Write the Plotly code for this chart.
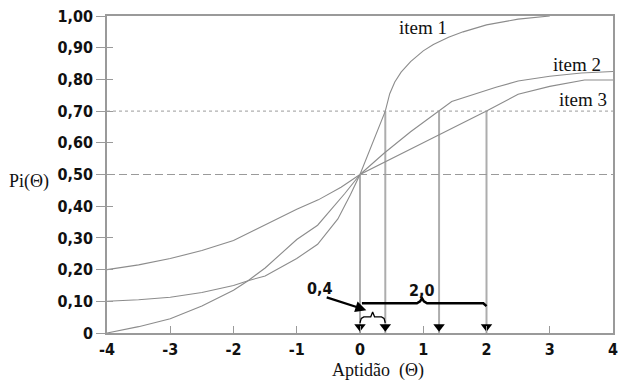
import plotly.graph_objects as go

# ---------------- data ----------------
theta_item1 = [-4, -3.5, -3, -2.5, -2, -1.77, -1.5, -1, -0.67, -0.24, 0, 0.2, 0.4, 0.47, 0.55, 0.65, 0.8, 1.0, 1.16, 1.4, 1.63, 2.0, 2.5, 3]
p_item1 = [0.0, 0.02, 0.045, 0.085, 0.135, 0.165, 0.205, 0.295, 0.34, 0.44, 0.5, 0.6, 0.7, 0.755, 0.792, 0.823, 0.856, 0.89, 0.91, 0.933, 0.95, 0.972, 0.99, 1.0]

theta_item2 = [-4, -3.5, -3, -2.5, -2, -1.5, -1, -0.66, -0.3, 0, 0.38, 0.8, 1.25, 1.45, 2.15, 2.5, 3, 3.5, 4]
p_item2 = [0.2, 0.215, 0.235, 0.26, 0.292, 0.34, 0.39, 0.42, 0.46, 0.5, 0.567, 0.635, 0.7, 0.73, 0.775, 0.795, 0.81, 0.82, 0.825]

theta_item3 = [-4, -3.5, -3, -2.5, -2, -1.77, -1.5, -1, -0.67, -0.35, -0.15, 0, 1, 2, 2.5, 3, 3.55, 4]
p_item3 = [0.1, 0.105, 0.113, 0.128, 0.15, 0.165, 0.18, 0.235, 0.28, 0.36, 0.437, 0.5, 0.6, 0.7, 0.753, 0.778, 0.798, 0.798]

item_labels = ["item 1", "item 2", "item 3"]
theta_at_070 = [0.4, 1.25, 2.0]   # ability where each item reaches P = 0.70
theta_at_050 = 0.0
p_ref_high = 0.70
p_ref_mid = 0.50

y_tickvals = [0, 0.1, 0.2, 0.3, 0.4, 0.5, 0.6, 0.7, 0.8, 0.9, 1.0]
y_ticktext = ["0", "0,10", "0,20", "0,30", "0,40", "0,50", "0,60", "0,70", "0,80", "0,90", "1,00"]
x_tickvals = [-4, -3, -2, -1, 0, 1, 2, 3, 4]
x_ticktext = ["-4", "-3", "-2", "-1", "0", "1", "2", "3", "4"]

# ---------------- styles ----------------
CURVE = "#8c8c8c"
AXIS = "#9a9a9a"
VLINE = "#adadad"
TICKFONT = dict(family="DejaVu Sans Condensed, DejaVu Sans, sans-serif", size=16, color="#111", weight="bold")
SERIF = "Liberation Serif, Times New Roman, serif"

fig = go.Figure()

# vertical drop lines
for t in theta_at_070:
    fig.add_trace(go.Scatter(x=[t, t], y=[p_ref_high, 0], mode="lines",
                             line=dict(color=VLINE, width=2), hoverinfo="skip", showlegend=False))
fig.add_trace(go.Scatter(x=[theta_at_050, theta_at_050], y=[p_ref_mid, 0], mode="lines",
                         line=dict(color=VLINE, width=2), hoverinfo="skip", showlegend=False))

# curves
for tx, py in [(theta_item1, p_item1), (theta_item2, p_item2), (theta_item3, p_item3)]:
    fig.add_trace(go.Scatter(x=tx, y=py, mode="lines", line=dict(color=CURVE, width=1.1),
                             hoverinfo="skip", showlegend=False))

# arrowheads on the axis
fig.add_trace(go.Scatter(x=[theta_at_050] + theta_at_070, y=[0.02] * 4, mode="markers",
                         marker=dict(symbol="triangle-down", size=10, color="black"),
                         hoverinfo="skip", showlegend=False, cliponaxis=False))

# big bracket (0 -> 2.0)
br_x = [0.03, 0.9, 0.95, 0.98, 1.01, 1.06, 1.95, 2.0]
br_y = [0.094, 0.094, 0.1, 0.11, 0.1, 0.094, 0.094, 0.085]
fig.add_trace(go.Scatter(x=br_x, y=br_y, mode="lines", line=dict(color="black", width=2.5),
                         hoverinfo="skip", showlegend=False))
# small brace (0 -> 0.4)
sb_x = [0.0, 0.02, 0.06, 0.17, 0.2, 0.23, 0.34, 0.38, 0.4]
sb_y = [0.032, 0.046, 0.051, 0.051, 0.066, 0.051, 0.051, 0.046, 0.032]
fig.add_trace(go.Scatter(x=sb_x, y=sb_y, mode="lines", line=dict(color="black", width=1.3),
                         hoverinfo="skip", showlegend=False))

# overlay axis for inside y ticks
fig.add_trace(go.Scatter(x=[None], y=[None], yaxis="y2", showlegend=False))

shapes = [
    dict(type="line", xref="x", yref="y", x0=-4, x1=4, y0=p_ref_high, y1=p_ref_high,
         line=dict(color=AXIS, width=1, dash="dot")),
    dict(type="line", xref="x", yref="y", x0=-4, x1=4, y0=p_ref_mid, y1=p_ref_mid,
         line=dict(color=AXIS, width=1.2, dash="8px,4px")),
]

annotations = [
    dict(x=0.99, y=0.9625, text=item_labels[0], showarrow=False, xref="x", yref="y",
         xanchor="center", yanchor="middle", font=dict(family=SERIF, size=19, color="#111")),
    dict(x=3.43, y=0.847, text=item_labels[1], showarrow=False, xref="x", yref="y",
         xanchor="center", yanchor="middle", font=dict(family=SERIF, size=19, color="#111")),
    dict(x=3.53, y=0.7375, text=item_labels[2], showarrow=False, xref="x", yref="y",
         xanchor="center", yanchor="middle", font=dict(family=SERIF, size=19, color="#111")),
    dict(x=0.98, y=0.135, text="2,0", showarrow=False, xref="x", yref="y",
         xanchor="center", yanchor="middle", font=TICKFONT),
    dict(x=-0.64, y=0.14, text="0,4", showarrow=False, xref="x", yref="y",
         xanchor="center", yanchor="middle", font=TICKFONT),
    dict(x=0.1, y=0.072, ax=-0.55, ay=0.114, axref="x", ayref="y", xref="x", yref="y",
         text="", showarrow=True, arrowhead=2, arrowsize=1, arrowwidth=2.2, arrowcolor="black"),
    dict(x=(381 - 107) / 511, y=(333 - 371) / 320, xref="paper", yref="paper",
         xanchor="center", yanchor="middle",
         text="Aptid\u00e3o\u00a0\u00a0(\u0398)", showarrow=False,
         font=dict(family=SERIF, size=18, color="#111")),
    dict(x=(28.5 - 107) / 511, y=(333 - 180) / 320, xref="paper", yref="paper",
         xanchor="center", yanchor="middle",
         text="Pi(\u0398)", showarrow=False, font=dict(family=SERIF, size=18, color="#111")),
]

fig.update_layout(
    width=625, height=384,
    margin=dict(l=107, r=7, t=13, b=51),
    paper_bgcolor="white", plot_bgcolor="white",
    showlegend=False,
    xaxis=dict(range=[-4, 4], tickvals=x_tickvals, ticktext=x_ticktext, ticks="inside", ticklen=7,
               tickcolor=AXIS, tickwidth=1.2, showgrid=False, zeroline=False, showline=True,
               linecolor=AXIS, linewidth=1.5, mirror=True, tickfont=TICKFONT, ticklabelstandoff=1),
    yaxis=dict(range=[0, 1.0], tickvals=y_tickvals, ticktext=y_ticktext, ticks="outside", ticklen=9,
               tickcolor=AXIS, tickwidth=1.2, showgrid=False, zeroline=False, showline=True,
               linecolor=AXIS, linewidth=1.5, mirror=True, tickfont=TICKFONT),
    yaxis2=dict(range=[0, 1.0], overlaying="y", side="left", tickvals=y_tickvals, ticks="inside",
                ticklen=6, tickcolor=AXIS, tickwidth=1.2, showticklabels=False, showgrid=False,
                zeroline=False, showline=False),
    shapes=shapes,
    annotations=annotations,
)

fig.write_html("out.html", config={"displayModeBar": False},
               post_script="document.body.style.margin='0';")
